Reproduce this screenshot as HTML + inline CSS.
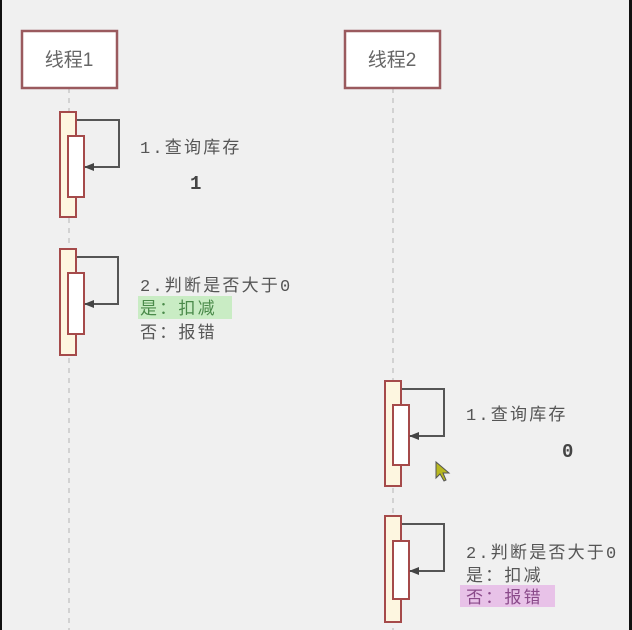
<!DOCTYPE html>
<html><head><meta charset="utf-8"><style>
html,body{margin:0;padding:0;background:#f0f0f0;}
svg{display:block}
text{font-family:"Liberation Mono","Noto Sans CJK SC",monospace;fill:#555;font-size:17px;letter-spacing:2.2px}
</style></head><body>
<svg width="632" height="630" viewBox="0 0 632 630" xmlns="http://www.w3.org/2000/svg">
<defs><marker id="a" markerWidth="10" markerHeight="8" refX="9" refY="4" orient="auto" markerUnits="userSpaceOnUse"><path d="M0,0 L10,4 L0,8 Z" fill="#444"/></marker></defs>
<rect x="0" y="0" width="632" height="630" fill="#f0f0f0"/>
<rect x="0" y="0" width="2" height="630" fill="#111"/>
<rect x="629" y="0" width="3" height="630" fill="#111"/>
<line x1="69" y1="88" x2="69" y2="630" stroke="#c8c8c8" stroke-width="1.5" stroke-dasharray="5,5"/>
<line x1="393" y1="88" x2="393" y2="630" stroke="#c8c8c8" stroke-width="1.5" stroke-dasharray="5,5"/>
<rect x="22" y="31" width="95" height="57" fill="#fff" stroke="#9a5a5e" stroke-width="2.5"/>
<text x="69" y="66" text-anchor="middle" style="font-size:19px;letter-spacing:0;font-family:'Liberation Sans','Noto Sans CJK SC',sans-serif;fill:#666">线程1</text>
<rect x="345" y="31" width="95" height="57" fill="#fff" stroke="#9a5a5e" stroke-width="2.5"/>
<text x="392" y="66" text-anchor="middle" style="font-size:19px;letter-spacing:0;font-family:'Liberation Sans','Noto Sans CJK SC',sans-serif;fill:#666">线程2</text>
<g stroke="#a54a4a" stroke-width="2">
<rect x="60" y="112" width="16" height="105" fill="#fdf6e0"/>
<rect x="68" y="136" width="16" height="61" fill="#fff"/>
<rect x="60" y="249" width="16" height="106" fill="#fdf6e0"/>
<rect x="68" y="273" width="16" height="61" fill="#fff"/>
<rect x="385" y="381" width="16" height="105" fill="#fdf6e0"/>
<rect x="393" y="405" width="16" height="60" fill="#fff"/>
<rect x="385" y="516" width="16" height="106" fill="#fdf6e0"/>
<rect x="393" y="541" width="16" height="58" fill="#fff"/>
</g>
<g stroke="#555" stroke-width="2" fill="none" marker-end="url(#a)">
<polyline points="77,120 119,120 119,167 85,167"/>
<polyline points="77,257 118,257 118,304 85,304"/>
<polyline points="402,389 444,389 444,436 410,436"/>
<polyline points="402,524 444,524 444,571 410,571"/>
</g>
<rect x="138" y="296" width="94" height="23" fill="#c9ecc4"/>
<rect x="460" y="585" width="95" height="22" fill="#e8c2e8"/>
<text x="140" y="153">1.查询库存</text>
<text x="190" y="189" style="font-weight:bold;font-size:19px;fill:#444">1</text>
<text x="140" y="291">2.判断是否大于0</text>
<text x="140" y="314" style="fill:#4a8a4a">是：扣减</text>
<text x="140" y="338">否：报错</text>
<text x="466" y="420">1.查询库存</text>
<text x="562" y="457" style="font-weight:bold;font-size:19px;fill:#444">0</text>
<text x="466" y="558">2.判断是否大于0</text>
<text x="466" y="581">是：扣减</text>
<text x="466" y="603" style="fill:#8a4a8a">否：报错</text>
<path d="M436,462 L436,478 L440,474 L444,481 L446,480 L443,473 L449,473 Z" fill="#b8b820" stroke="#555" stroke-width="1"/>
</svg>
</body></html>
